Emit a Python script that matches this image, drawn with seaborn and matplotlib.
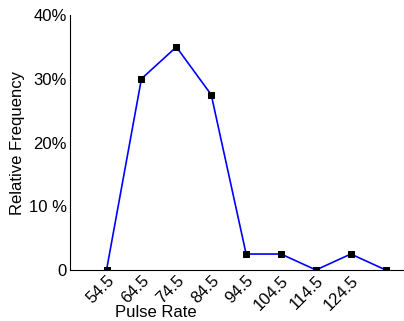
import matplotlib
matplotlib.use("Agg")
import matplotlib.pyplot as plt
import seaborn as sns
import pandas as pd

pulse_rate = [54.5, 64.5, 74.5, 84.5, 94.5, 104.5, 114.5, 124.5, 134.5]
rel_freq = [0, 30, 35, 27.5, 2.5, 2.5, 0, 2.5, 0]
tick_vals = [54.5, 64.5, 74.5, 84.5, 94.5, 104.5, 114.5, 124.5]
tick_labels = ["54.5", "64.5", "74.5", "84.5", "94.5", "104.5", "114.5", "124.5"]
y_ticks = [0, 10, 20, 30, 40]
y_labels = ["0", "10 %", "20%", "30%", "40%"]

sns.set_style("white")
plt.rcParams['font.family'] = ['Liberation Sans', 'DejaVu Sans']
plt.rcParams['text.color'] = 'black'
plt.rcParams['axes.labelcolor'] = 'black'
plt.rcParams['xtick.color'] = 'black'
plt.rcParams['ytick.color'] = 'black'

FS = 12
df = pd.DataFrame({"x": pulse_rate, "y": rel_freq})
fig = plt.figure(figsize=(4.04, 3.21), dpi=100)
ax = fig.add_axes([0.173, 0.159, 0.825, 0.794])
sns.lineplot(data=df, x="x", y="y", ax=ax, color="#0000ff", linewidth=1.2,
             marker="s", markersize=4.5, markerfacecolor="black",
             markeredgecolor="black")
ax.set_xlim(44, 139.5)
ax.set_ylim(0, 40)
ax.set_xticks(tick_vals)
ax.set_xticklabels(tick_labels, rotation=45, ha="right", rotation_mode="anchor", fontsize=FS)
ax.set_yticks(y_ticks)
ax.set_yticklabels(y_labels, fontsize=FS)
ax.tick_params(direction="in", length=4, width=0.8, color="black", pad=2)
ax.tick_params(axis="x", pad=2)
ax.set_xlabel("Pulse Rate", fontsize=FS, va="center")
ax.xaxis.set_label_coords(0.258, -0.165)
ax.set_ylabel("Relative Frequency", fontsize=FS, labelpad=3)
for s in ["top", "right"]:
    ax.spines[s].set_visible(False)
for s in ["left", "bottom"]:
    ax.spines[s].set_color("black")
    ax.spines[s].set_linewidth(0.8)
fig.savefig("out.png", dpi=100)
